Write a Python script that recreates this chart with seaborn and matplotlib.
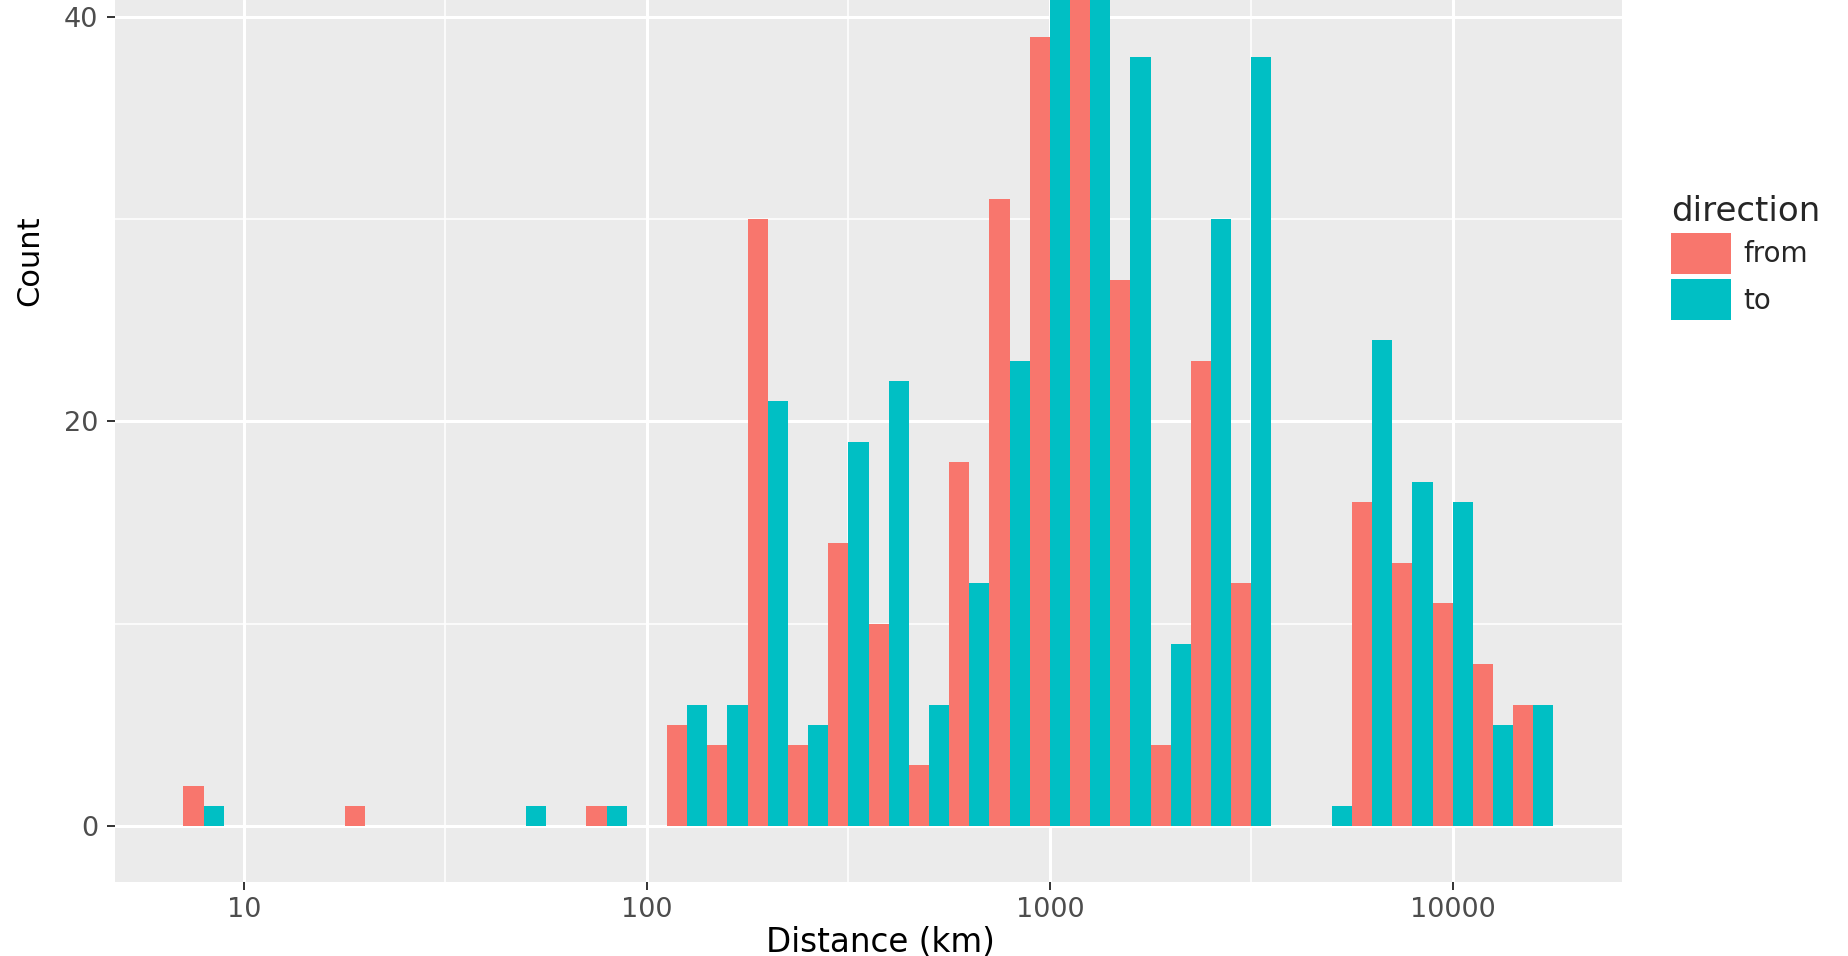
import numpy as np
import pandas as pd
import matplotlib
matplotlib.use("Agg")
import matplotlib.pyplot as plt
import seaborn as sns

# bin centres on log10(km) scale, binwidth 0.1
log_centres = [0.9, 1.0, 1.1, 1.2, 1.3, 1.4, 1.5, 1.6, 1.7, 1.8, 1.9, 2.0,
               2.1, 2.2, 2.3, 2.4, 2.5, 2.6, 2.7, 2.8, 2.9, 3.0, 3.1, 3.2,
               3.3, 3.4, 3.5, 3.6, 3.7, 3.8, 3.9, 4.0, 4.1, 4.2]
count_from = [2, 0, 0, 0, 1, 0, 0, 0, 0, 0, 1, 0,
              5, 4, 30, 4, 14, 10, 3, 18, 31, 39, 47, 27,
              4, 23, 12, 0, 0, 16, 13, 11, 8, 6]
count_to = [1, 0, 0, 0, 0, 0, 0, 0, 1, 0, 1, 0,
            6, 6, 21, 5, 19, 22, 6, 12, 23, 46, 55, 38,
            9, 30, 38, 0, 1, 24, 17, 16, 5, 6]
directions = ["from", "to"]
colors = {"from": "#F8766D", "to": "#00BFC4"}

x_breaks = [10, 100, 1000, 10000]
x_labels = ["10", "100", "1000", "10000"]
y_breaks = [0, 20, 40]

# long table for seaborn
dist_km = np.power(10.0, log_centres)
df = pd.concat([
    pd.DataFrame({"distance": dist_km, "count": count_from, "direction": "from"}),
    pd.DataFrame({"distance": dist_km, "count": count_to, "direction": "to"}),
], ignore_index=True)

sns.set_style("darkgrid", {"axes.facecolor": "#EBEBEB", "grid.color": "white"})
plt.rcParams["font.family"] = ["DejaVu Sans"]

W, H = 1848, 956
fig = plt.figure(figsize=(W / 100, H / 100), dpi=100)
ax = fig.add_axes([115 / W, 1 - 882 / H, (1622 - 115) / W, 882 / H])

sns.histplot(data=df, x="distance", weights="count", hue="direction",
             hue_order=directions, palette=colors, multiple="dodge",
             shrink=1, log_scale=True, binwidth=0.1, binrange=(0.85, 4.25),
             alpha=1, linewidth=0, ax=ax)

ax.set_xlim(10 ** 0.68, 10 ** 4.42)
ax.set_ylim(-2.77, 40.83)

ax.set_xticks(x_breaks)
ax.set_xticklabels(x_labels)
ax.set_xticks([10 ** 1.5, 10 ** 2.5, 10 ** 3.5], minor=True)
ax.set_yticks(y_breaks)
ax.set_yticks([10, 30], minor=True)

ax.set_axisbelow(True)
ax.grid(which="major", color="white", linewidth=2.2)
ax.grid(which="minor", color="white", linewidth=1.1)
for s in ax.spines.values():
    s.set_visible(False)

ax.tick_params(which="major", bottom=True, left=True, length=5.8, width=1.4,
               color="#333333", labelcolor="#4D4D4D", labelsize=19.5)
ax.tick_params(axis="x", which="major", pad=5)
ax.tick_params(axis="y", which="major", pad=6.5)
ax.tick_params(which="minor", length=0)

ax.set_xlabel("Distance (km)", fontsize=23.5, color="black")
ax.xaxis.set_label_coords(0.508, -0.05)
ax.set_ylabel("Count", fontsize=22, color="black")
ax.yaxis.set_label_coords(-0.047, 0.705)

sns.move_legend(ax, "upper left", bbox_to_anchor=(1671 / W, 1 - 195 / H),
                bbox_transform=fig.transFigure, frameon=False,
                fontsize=20, title_fontsize=24.5, handlelength=2.15,
                handleheight=1.9, labelspacing=0.18, handletextpad=0.45,
                borderpad=0, borderaxespad=0, alignment="left")

fig.savefig("out.png", dpi=100)
